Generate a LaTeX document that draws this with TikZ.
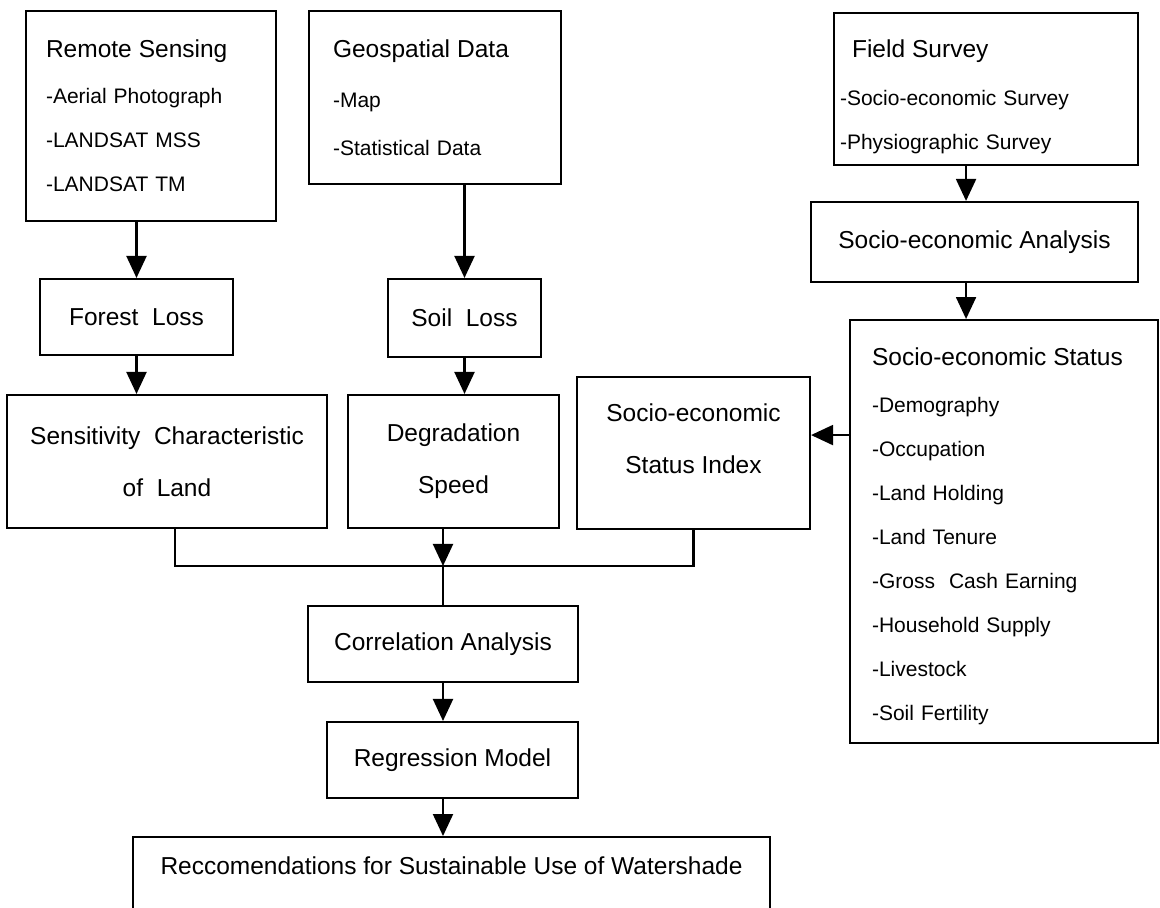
\documentclass[tikz,border=0pt]{standalone}
\usepackage{fontspec}
\setmainfont{Liberation Sans}
\usetikzlibrary{arrows.meta}
\newcommand{\boxtitle}[1]{{\fontsize{24.5}{44}\selectfont #1}}

\begin{document}
\begin{tikzpicture}[
    x=1pt, y=-1pt,
    box/.style={rectangle, draw, line width=2.1pt, align=center, inner sep=0pt, font=\fontsize{24.5}{52}\selectfont},
    listbox/.style={rectangle, draw, line width=2.1pt, anchor=north west, align=left, inner ysep=0pt, font=\fontsize{21}{44}\selectfont},
    arrow/.style={-{Triangle[width=20pt,length=22pt]}, line width=2.1pt},
    link/.style={line width=2.1pt}
]

\useasboundingbox (0,0) rectangle (1160,908);
\clip (0,0) rectangle (1160,908);

% data sources
\node[listbox, inner xsep=20pt, text width=210pt, minimum height=210pt] (remote) at (25,10) {\boxtitle{Remote Sensing}\\[2pt] -Aerial Photograph\\ -LANDSAT MSS\\ -LANDSAT TM};
\node[listbox, inner xsep=24pt, text width=204pt, minimum height=173pt] (geo) at (308,10) {\boxtitle{Geospatial Data}\\[6pt] -Map\\[4pt] -Statistical Data};
\node[listbox, inner xsep=6pt, text width=292pt, minimum height=152pt, text height=34pt] (field) at (833,12) {\hspace*{12pt}\boxtitle{Field Survey}\\[4pt] -Socio-economic Survey\\ -Physiographic Survey};

% intermediate results
\node[box, minimum width=193pt, minimum height=76pt] (forest) at (136.5,317) {Forest\ \ Loss};
\node[box, minimum width=153pt, minimum height=78pt] (soil) at (464.5,318) {Soil\ \ Loss};
\node[box, minimum width=327pt, minimum height=80pt] (seana) at (974.5,242) {Socio-economic Analysis};
\node[listbox, inner xsep=22pt, text width=264pt, minimum height=423pt, text height=28pt] (sess) at (849,319) {\boxtitle{Socio-economic Status}\\[3pt] -Demography\\ -Occupation\\ -Land Holding\\ -Land Tenure\\ -Gross\ \ Cash Earning\\ -Household Supply\\ -Livestock\\ -Soil Fertility};

\node[box, minimum width=320pt, minimum height=133pt] (sens) at (167,461.5) {Sensitivity\ \ Characteristic\\of\ \ Land};
\node[box, minimum width=211pt, minimum height=133pt] (degr) at (453.5,461.5) {Degradation\\Speed};
\node[box, minimum width=233pt, minimum height=152pt, text depth=28pt] (sesi) at (693.5,453) {Socio-economic\\Status Index};

% analysis
\node[box, minimum width=270pt, minimum height=76pt] (corr) at (443,644) {Correlation Analysis};
\node[box, minimum width=251pt, minimum height=76pt] (regr) at (452.5,760) {Regression Model};
\node[box, anchor=north, minimum width=637pt, inner ysep=20pt, text height=17.5pt, text depth=60pt] (recom) at (451.5,836) {Reccomendations for Sustainable Use of Watershade};

\coordinate (col) at ([xshift=-20pt]field.south);
\coordinate (join) at ([yshift=39pt]corr.north);

\draw[arrow] (remote.south -| forest.north) -- (forest.north);
\draw[arrow] (geo.south -| soil.north) -- (soil.north);
\draw[arrow] (forest.south) -- (forest.south |- sens.north);
\draw[arrow] (soil.south) -- (soil.south |- degr.north);
\draw[arrow] (col) -- (col |- seana.north);
\draw[arrow] (col |- seana.south) -- (col |- sess.north);
\draw[arrow] ([yshift=96.5pt]sess.west) -- ([yshift=96.5pt]sess.west -| sesi.east);

\draw[link] ([xshift=8pt]sens.south) |- (join) -| (sesi.south);
\draw[arrow] (degr.south -| join) -- (join);
\draw[link] (join) -- (corr.north);
\draw[arrow] (corr.south) -- (corr.south |- regr.north);
\draw[arrow] (corr.south |- regr.south) -- (corr.south |- recom.north);

\end{tikzpicture}
\end{document}
